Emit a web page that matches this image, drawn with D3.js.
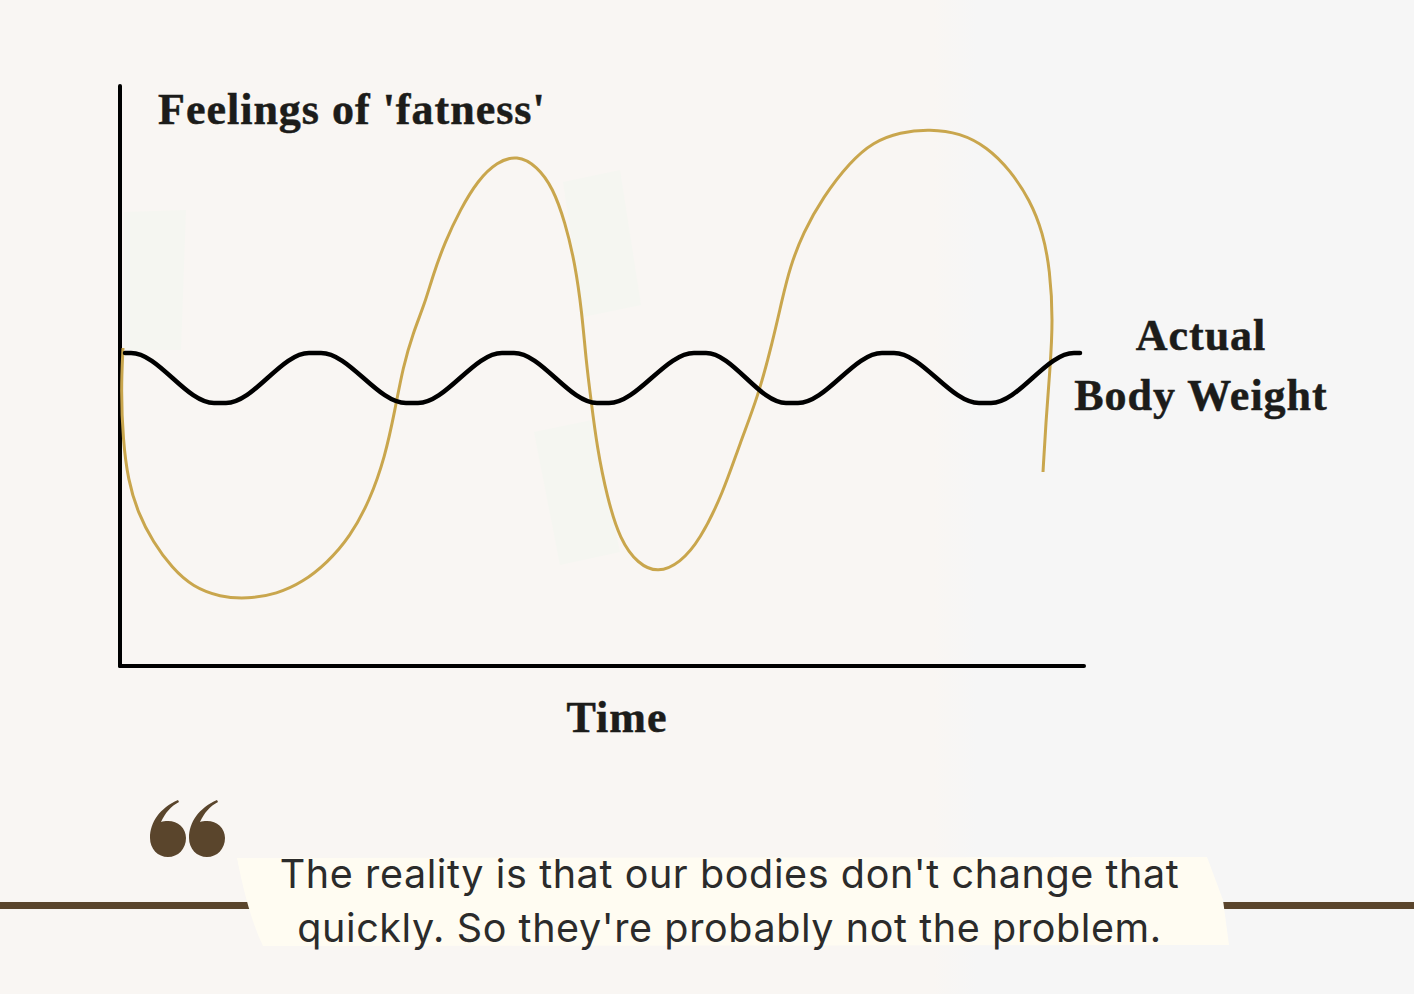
<!DOCTYPE html>
<html>
<head>
    <meta charset="utf-8">
    <style>
        html, body { margin: 0; padding: 0; background: #f6f6f6; overflow: hidden; }
        svg { display: block; }
        .label { font-family: "Liberation Serif", serif; font-weight: bold; font-size: 44px; letter-spacing: 1px; fill: #1c1c1a; stroke: #1c1c1a; stroke-width: 0.5px; }
        .quote { font-family: "Inter", sans-serif; font-size: 39.5px; letter-spacing: 0.6px; fill: #2b2b2b; text-anchor: middle; }
    </style>
</head>
<body>
<svg width="1414" height="994"></svg>
<script src="https://d3js.org/d3.v7.min.js"></script>
<script>
    // the axes have no units in the original, values are read along the drawn axis length
    const feelingTime = [3, 1, 3, 8, 18, 33, 52, 73, 100, 127, 157, 183, 207, 230, 250, 265, 275, 283, 293, 305, 313, 325, 340, 358, 377, 397, 417, 433, 445, 455, 462, 466, 471, 477, 487, 500, 518, 538, 560, 580, 603, 620, 638, 653, 662, 670, 683, 703, 730, 753, 780, 810, 840, 867, 890, 910, 923, 930, 933, 930, 926, 923];
    const feelingLevel = [318, 276, 226, 186, 153, 124, 98, 79, 69, 67, 72, 84, 103, 129, 166, 209, 256, 299, 333, 363, 391, 424, 456, 486, 504, 511, 500, 478, 444, 403, 353, 306, 266, 219, 169, 126, 102, 93, 103, 126, 173, 223, 269, 326, 366, 399, 433, 469, 504, 524, 534, 537, 533, 519, 496, 466, 433, 396, 346, 296, 246, 194];

    const weightTime = [5, 11, 94, 106, 189, 201, 286, 298, 382, 394, 477, 489, 574, 586, 666, 678, 762, 774, 859, 871, 954, 960];
    const weightLevel = [313, 313, 263, 263, 313, 313, 263, 263, 313, 313, 263, 263, 313, 313, 263, 263, 313, 313, 263, 263, 313, 313];

    const yTitle = "Feelings of 'fatness'";
    const xTitle = "Time";
    const weightLabel = ["Actual", "Body Weight"];
    const quoteLines = ["The reality is that our bodies don't change that", "quickly. So they're probably not the problem."];

    const svg = d3.select("svg");

    const x = d3.scaleLinear().domain([0, 964]).range([120, 1084]);
    const y = d3.scaleLinear().domain([0, 580]).range([666, 86]);

    // background is two slightly different off-whites
    const defs = svg.append("defs");
    const bg = defs.append("linearGradient").attr("id", "bg");
    bg.append("stop").attr("offset", "0.66").attr("stop-color", "#f9f6f3");
    bg.append("stop").attr("offset", "0.69").attr("stop-color", "#f6f6f6");
    svg.append("rect").attr("width", 1414).attr("height", 994).attr("fill", "url(#bg)");

    // faint patches behind the curves
    const patches = [
        "M124,212L186,210L181,350L124,350Z",
        "M563,182L620,170L641,305L583,317Z",
        "M534,432L592,420L620,552L560,565Z"
    ];
    svg.append("g").selectAll("path")
        .data(patches)
        .join("path")
        .attr("d", d => d)
        .attr("fill", "#f5f6f1");

    // axes
    const axis = svg.append("g").attr("stroke", "#000").attr("stroke-width", 4).attr("stroke-linecap", "round");
    axis.append("line").attr("x1", x(0)).attr("x2", x(0)).attr("y1", y(580)).attr("y2", y(0));
    axis.append("line").attr("x1", x(0)).attr("x2", x(964)).attr("y1", y(0)).attr("y2", y(0));

    // curves
    const feelingLine = d3.line().x(d => x(d[0])).y(d => y(d[1])).curve(d3.curveBasis);
    svg.append("path")
        .datum(d3.zip(feelingTime, feelingLevel))
        .attr("d", feelingLine)
        .attr("fill", "none")
        .attr("stroke", "#c9a64d")
        .attr("stroke-width", 3);

    const weightLine = d3.line().x(d => x(d[0])).y(d => y(d[1])).curve(d3.curveMonotoneX);
    svg.append("path")
        .datum(d3.zip(weightTime, weightLevel))
        .attr("d", weightLine)
        .attr("fill", "none")
        .attr("stroke", "#000")
        .attr("stroke-width", 4.5)
        .attr("stroke-linecap", "round");

    // labels
    svg.append("text").attr("class", "label").attr("x", 158).attr("y", 124).text(yTitle);
    svg.append("text").attr("class", "label").attr("x", 617).attr("y", 732)
        .attr("text-anchor", "middle").text(xTitle);
    svg.append("g").selectAll("text")
        .data(weightLabel)
        .join("text")
        .attr("class", "label")
        .attr("x", 1201)
        .attr("y", (d, i) => 350 + i * 60)
        .attr("text-anchor", "middle")
        .text(d => d);

    // quote block
    svg.append("g").attr("fill", "#5a452c").selectAll("rect")
        .data([[0, 250], [1220, 194]])
        .join("rect")
        .attr("x", d => d[0])
        .attr("y", 902)
        .attr("width", d => d[1])
        .attr("height", 7);

    svg.append("path")
        .attr("d", "M237,858L1207,857L1223,900L1229,945L263,946Q248,915 237,858Z")
        .attr("fill", "#fffcf2");

    // quote mark icon, same shape twice
    svg.append("g").attr("fill", "#5a452c").selectAll("path")
        .data([0, 39])
        .join("path")
        .attr("transform", d => `translate(${d},0)`)
        .attr("d", "M178,800C160,808 150,822 150,838C150,849 158,857 168,857C178,857 186,849 186,838C186,828 178,821 168,821C165,821 163,821 161,822C165,813 171,806 179,802Z");

    svg.append("g").selectAll("text")
        .data(quoteLines)
        .join("text")
        .attr("class", "quote")
        .attr("x", 729.5)
        .attr("y", (d, i) => 888 + i * 54)
        .text(d => d);
</script>
</body>
</html>
